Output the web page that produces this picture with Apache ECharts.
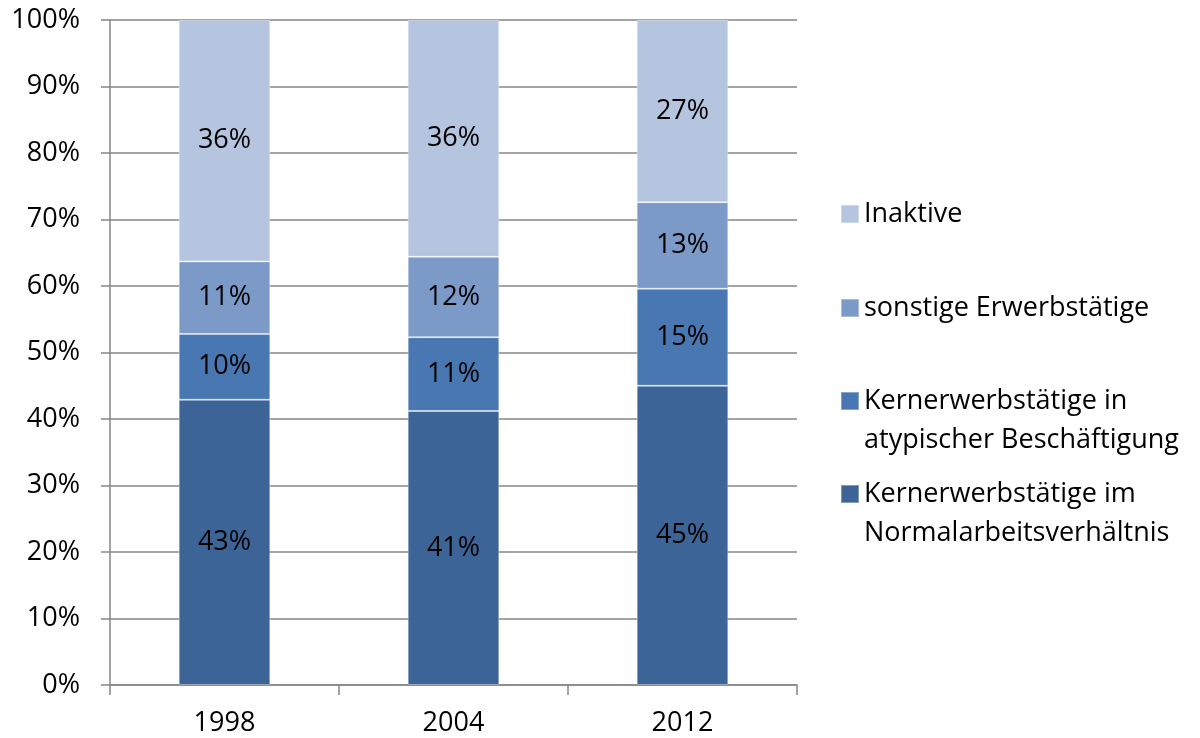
<!DOCTYPE html>
<html>
<head>
<meta charset="utf-8">
<title>Erwerbsstatus 1998-2012</title>
<script src="https://cdn.jsdelivr.net/npm/echarts@6/dist/echarts.min.js"></script>
<style>
  html, body { margin: 0; padding: 0; background: #fff; }
  #chart { width: 1200px; height: 738px; }
</style>
</head>
<body>
<div id="chart"></div>
<script>
const years = ['1998', '2004', '2012']

// shares in percent, bottom to top of each stack
const normal = [42.9, 41.2, 45.0]
const atypisch = [9.9, 11.1, 14.6]
const sonstige = [10.9, 12.1, 13.0]
const inaktive = [36.3, 35.6, 27.4]

const yTicks = [0, 10, 20, 30, 40, 50, 60, 70, 80, 90, 100]

const names = {
  normal: 'Kernerwerbstätige im Normalarbeitsverhältnis',
  atypisch: 'Kernerwerbstätige in atypischer Beschäftigung',
  sonstige: 'sonstige Erwerbstätige',
  inaktive: 'Inaktive',
}
// leading empty line keeps the square level with the first text line
const legendText = {
  [names.normal]: '\nKernerwerbstätige im\nNormalarbeitsverhältnis',
  [names.atypisch]: '\nKernerwerbstätige in\natypischer Beschäftigung',
  [names.sonstige]: 'sonstige Erwerbstätige',
  [names.inaktive]: 'Inaktive',
}

const font = "'Open Sans', 'Liberation Sans', sans-serif"
const fontSize = 27
const lineH = 39
const axisGray = '#868686'

const barSeries = (name, data, color) => ({
  name,
  type: 'bar',
  stack: 'total',
  barWidth: '40%',
  data,
  itemStyle: { color, borderColor: 'rgba(255,255,255,0.35)', borderWidth: 1 },
  label: {
    show: true,
    position: 'inside',
    color: '#000',
    fontFamily: font,
    fontSize,
    formatter: (p) => Math.round(p.value) + '%',
  },
  emphasis: { disabled: true },
})

// center = y of the square's middle
const legendItem = (name, center, lines) => ({
  data: [name],
  orient: 'vertical',
  left: 840,
  top: center - (lines * lineH) / 2,
  padding: 0,
  itemWidth: 18,
  itemHeight: 18,
  icon: 'rect',
  selectedMode: false,
  formatter: (n) => legendText[n],
  textStyle: {
    fontFamily: font,
    fontSize,
    color: '#000',
    lineHeight: lineH,
  },
})

const chart = echarts.init(document.getElementById('chart'))
chart.setOption({
  animation: false,
  grid: { left: 110, right: 403, top: 20, bottom: 53 },
  legend: [
    legendItem(names.inaktive, 214, 1),
    legendItem(names.sonstige, 308, 1),
    legendItem(names.atypisch, 401, 3),
    legendItem(names.normal, 494, 3),
  ],
  xAxis: {
    type: 'category',
    data: years,
    axisLine: { lineStyle: { color: axisGray, width: 1.5 } },
    axisTick: { show: true, length: 10, alignWithLabel: false, lineStyle: { color: axisGray, width: 1.5 } },
    axisLabel: { color: '#000', fontFamily: font, fontSize, margin: 25 },
  },
  yAxis: {
    type: 'value',
    min: yTicks[0],
    max: yTicks[yTicks.length - 1],
    interval: 10,
    axisLine: { show: true, lineStyle: { color: axisGray, width: 1.5 } },
    axisTick: { show: true, length: 9, lineStyle: { color: axisGray, width: 1.5 } },
    splitLine: { lineStyle: { color: axisGray, width: 1.5 } },
    axisLabel: { color: '#000', fontFamily: font, fontSize, margin: 30, formatter: '{value}%' },
  },
  series: [
    barSeries(names.normal, normal, '#3D6496'),
    barSeries(names.atypisch, atypisch, '#4877B1'),
    barSeries(names.sonstige, sonstige, '#7B9AC8'),
    barSeries(names.inaktive, inaktive, '#B5C4DF'),
  ],
})
window.addEventListener('resize', () => chart.resize())
</script>
</body>
</html>
